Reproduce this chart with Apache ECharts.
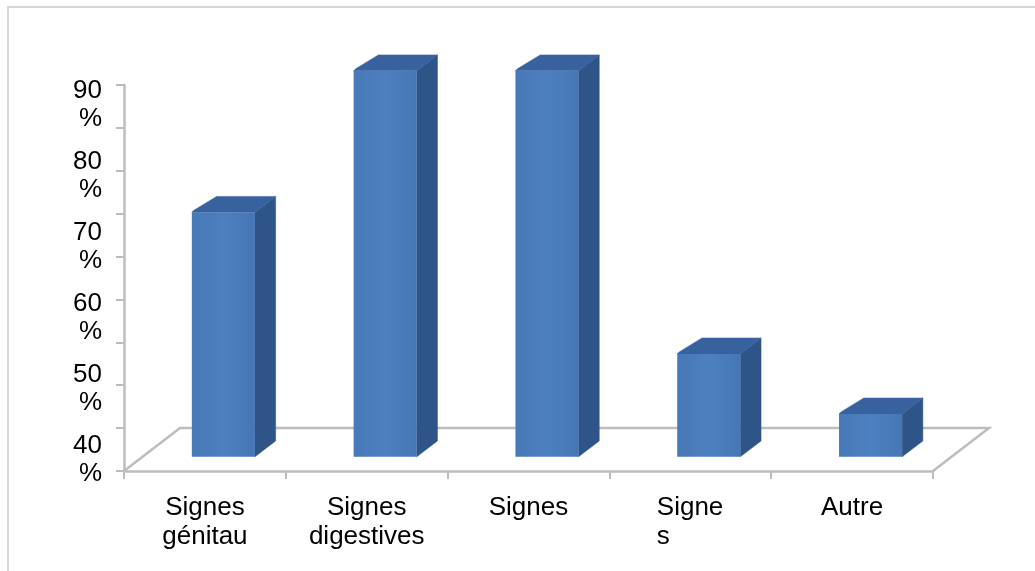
<!DOCTYPE html>
<html>
<head>
<meta charset="utf-8">
<script src="https://cdn.jsdelivr.net/npm/echarts@6/dist/echarts.min.js"></script>
<style>
  html, body { margin: 0; padding: 0; background: #ffffff; }
  #chart { width: 1035px; height: 571px; }
</style>
</head>
<body>
<div id="chart"></div>
<script>
// Categories and percentages
const categories = ['Signes\ngénitau', 'Signes\ndigestives', 'Signes', 'Signe\ns', 'Autre'];
const values = [57, 90, 90, 24, 10];
// Left-hand labels, bottom to top
const yTickLabels = ['40\n%', '50\n%', '60\n%', '70\n%', '80\n%', '90\n%'];
const yMin = 0;
const yMax = 90;
const yStep = 10;

// 3D look: floor depth in pixels and the depth band occupied by the bars
const FLOOR_DX = 56, FLOOR_DY = 43;
const BAR_FRONT = 0.33, BAR_BACK = 0.70;
const BAR_WIDTH = 0.39;
const LINE_GREY = '#bdbdbd';
const FONT = "'Liberation Sans', Arial, sans-serif";

const chart = echarts.init(document.getElementById('chart'), null, { renderer: 'canvas' });

function renderFloor(params, api) {
  const cs = params.coordSys;
  const yb = cs.y + cs.height;
  return {
    type: 'polyline',
    shape: {
      points: [
        [cs.x, yb],
        [cs.x + FLOOR_DX, yb - FLOOR_DY],
        [cs.x + cs.width + FLOOR_DX, yb - FLOOR_DY],
        [cs.x + cs.width, yb]
      ]
    },
    style: { stroke: LINE_GREY, lineWidth: 2.5, fill: null }
  };
}

function renderBar(params, api) {
  const idx = api.value(0);
  const v = api.value(1);
  const base = api.coord([idx, 0]);
  const top = api.coord([idx, v]);
  const band = api.size([1, 0])[0];
  const w = band * BAR_WIDTH;
  const fx = FLOOR_DX * BAR_FRONT, fy = -FLOOR_DY * BAR_FRONT;
  const dx = FLOOR_DX * (BAR_BACK - BAR_FRONT), dy = -FLOOR_DY * (BAR_BACK - BAR_FRONT);
  const x0 = base[0] - w / 2 + fx, x1 = x0 + w;
  const yb = base[1] + fy, yt = top[1] + fy;
  return {
    type: 'group',
    children: [
      {
        type: 'polygon',
        shape: { points: [[x1, yb], [x1, yt], [x1 + dx, yt + dy], [x1 + dx, yb + dy]] },
        style: { fill: '#2f5488', stroke: '#2f5488', lineWidth: 0.5 }
      },
      {
        type: 'polygon',
        shape: { points: [[x0, yt], [x1, yt], [x1 + dx, yt + dy], [x0 + dx + 4, yt + dy], [x0 + 2, yt - 2]] },
        style: { fill: '#38629e', stroke: '#38629e', lineWidth: 0.5 }
      },
      {
        type: 'rect',
        shape: { x: x0, y: yt, width: w, height: yb - yt },
        style: {
          fill: new echarts.graphic.LinearGradient(0, 0, 1, 0, [
            { offset: 0, color: '#4778b8' },
            { offset: 0.5, color: '#4d80c0' },
            { offset: 1, color: '#4676b5' }
          ])
        }
      }
    ]
  };
}

const option = {
  backgroundColor: '#ffffff',
  animation: false,
  textStyle: { fontFamily: FONT },
  graphic: [
    {
      type: 'rect',
      shape: { x: 8, y: 7, width: 1100, height: 700 },
      style: { fill: null, stroke: '#d6d6d6', lineWidth: 2 },
      silent: true
    }
  ],
  grid: [
    { left: 124, right: 102, top: 85, bottom: 100 },
    { left: 124, right: 102, top: 105, bottom: 111 }
  ],
  xAxis: [
    {
      type: 'category',
      gridIndex: 0,
      data: categories,
      axisLine: { show: true, lineStyle: { color: LINE_GREY, width: 2.5 } },
      axisTick: { show: true, length: 8, lineStyle: { color: LINE_GREY, width: 2 } },
      axisLabel: {
        interval: 0,
        margin: 22,
        color: '#000000',
        fontSize: 26,
        lineHeight: 29,
        fontFamily: FONT,
        formatter: function (val) {
          if (val === 'Signe\ns') return '{l|' + val + '}';
          return val;
        },
        rich: {
          l: { width: 67, align: 'left', fontSize: 26, lineHeight: 29, color: '#000000', fontFamily: FONT }
        }
      },
      splitLine: { show: false }
    },
    { type: 'value', gridIndex: 1, show: false }
  ],
  yAxis: [
    {
      type: 'value',
      gridIndex: 0,
      min: yMin,
      max: yMax,
      interval: yStep,
      axisLine: { show: true, lineStyle: { color: LINE_GREY, width: 2.5 } },
      axisTick: { show: true, length: 8, lineStyle: { color: LINE_GREY, width: 2 } },
      axisLabel: { show: false },
      splitLine: { show: false }
    },
    {
      type: 'category',
      gridIndex: 1,
      data: yTickLabels,
      boundaryGap: false,
      axisLine: { show: false },
      axisTick: { show: false },
      splitLine: { show: false },
      axisLabel: {
        interval: 0,
        margin: 22,
        align: 'right',
        color: '#000000',
        fontSize: 26,
        lineHeight: 28,
        fontFamily: FONT
      }
    }
  ],
  series: [
    {
      type: 'custom',
      name: 'floor',
      xAxisIndex: 0,
      yAxisIndex: 0,
      renderItem: renderFloor,
      data: [[0, 0]],
      z: 1,
      silent: true
    },
    {
      type: 'custom',
      name: 'Signes',
      xAxisIndex: 0,
      yAxisIndex: 0,
      renderItem: renderBar,
      encode: { x: 0, y: 1 },
      data: values.map((v, i) => [i, v]),
      z: 3
    }
  ]
};

chart.setOption(option);
</script>
</body>
</html>
